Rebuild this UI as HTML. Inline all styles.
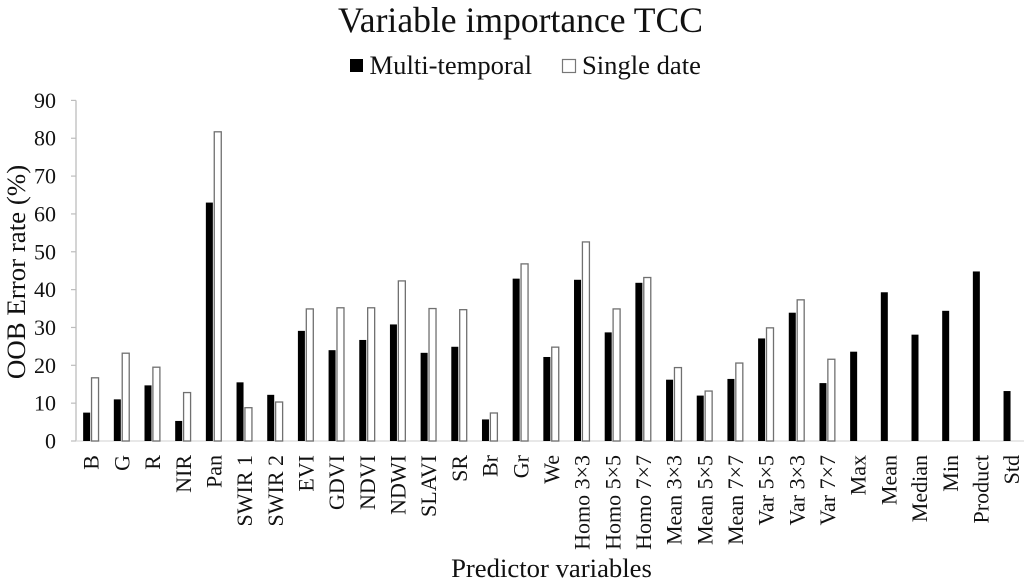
<!DOCTYPE html>
<html>
<head>
<meta charset="utf-8">
<title>Variable importance TCC</title>
<style>
html,body{margin:0;padding:0;background:#fff;width:1024px;height:587px;overflow:hidden}
svg{display:block;font-family:"Liberation Serif",serif;fill:#111;filter:blur(0.35px)}
</style>
</head>
<body>
<svg id="chart" width="1024" height="587" viewBox="0 0 1024 587">
  <text x="520.5" y="32" text-anchor="middle" font-size="35.6">Variable importance TCC</text>
  <rect x="350" y="59" width="13" height="13" fill="#000"/>
  <text x="369.5" y="74" font-size="26.6">Multi-temporal</text>
  <rect x="562.5" y="59.5" width="13" height="13" fill="#fff" stroke="#777" stroke-width="1.2"/>
  <text x="582" y="74" font-size="26.6">Single date</text>
  <text transform="translate(25,272) rotate(-90)" text-anchor="middle" font-size="26.9">OOB Error rate (%)</text>
  <text x="551.5" y="577" text-anchor="middle" font-size="26.7">Predictor variables</text>
  <g id="axes"></g>
  <g id="bars"></g>
  <g id="labels"></g>
</svg>
<script>
const categories = ["B","G","R","NIR","Pan","SWIR 1","SWIR 2","EVI","GDVI","NDVI","NDWI","SLAVI","SR","Br","Gr","We","Homo 3×3","Homo 5×5","Homo 7×7","Mean 3×3","Mean 5×5","Mean 7×7","Var 5×5","Var 3×3","Var 7×7","Max","Mean","Median","Min","Product","Std"];
const multiTemporal = [7.5,11,14.7,5.3,63,15.5,12.2,29.1,24,26.7,30.8,23.3,24.9,5.7,42.9,22.2,42.6,28.7,41.8,16.2,12,16.4,27.1,33.9,15.3,23.6,39.3,28.1,34.4,44.8,13.2];
const singleDate = [16.7,23.2,19.5,12.8,81.7,8.8,10.3,34.9,35.2,35.2,42.3,35,34.7,7.4,46.8,24.8,52.6,34.9,43.2,19.4,13.2,20.6,29.9,37.3,21.6,null,null,null,null,null,null];
const yTicks = [0,10,20,30,40,50,60,70,80,90];

const NS = "http://www.w3.org/2000/svg";
const plotLeft = 76, plotBottom = 441, plotTop = 100.4, yMax = 90, band = 30.68;
const barWidth = 7;
function yScale(v){ return plotBottom - (v / yMax) * (plotBottom - plotTop); }
function xCenter(i){ return plotLeft + band * (i + 0.5); }
function make(tag, attrs){
  const el = document.createElementNS(NS, tag);
  for (const k in attrs) el.setAttribute(k, attrs[k]);
  return el;
}
const axes = document.getElementById("axes");
const bars = document.getElementById("bars");
const labels = document.getElementById("labels");

const yLine = make("line", {x1: plotLeft, x2: plotLeft, y1: plotTop, y2: plotBottom, stroke: "#bdbdbd", "stroke-width": 1.3});


axes.appendChild(yLine);
const xLine = make("line", {x1: plotLeft, x2: 1024, y1: plotBottom, y2: plotBottom, stroke: "#d9d9d9", "stroke-width": 1.3});


axes.appendChild(xLine);

yTicks.forEach(function(t){
  const tick = make("line", {x1: plotLeft - 5, x2: plotLeft, y1: yScale(t), y2: yScale(t), stroke: "#bdbdbd", "stroke-width": 1.2});
  
  
  axes.appendChild(tick);
  const label = make("text", {x: 56, y: yScale(t) + 7.5, "text-anchor": "end", "font-size": 22});
  
  
  label.textContent = t;
  labels.appendChild(label);
});

categories.forEach(function(c, i){
  const cx = xCenter(i);
  const a = multiTemporal[i], b = singleDate[i];
  const blackBar = make("rect", {x: cx - 8.2, y: yScale(a), width: barWidth, height: plotBottom - yScale(a), fill: "#000"});
  
  
  bars.appendChild(blackBar);
  if (b !== null) {
    const whiteBar = make("rect", {x: cx + 0.2, y: yScale(b), width: barWidth, height: plotBottom - yScale(b), fill: "#fff", stroke: "#707070", "stroke-width": 1.3});
    
    
    bars.appendChild(whiteBar);
  }
  const label = make("text", {transform: "translate(" + (cx + 7.4) + ",455) rotate(-90)", "text-anchor": "end", "font-size": 22});
  
  
  label.textContent = c;
  labels.appendChild(label);
});
</script>
</body>
</html>
